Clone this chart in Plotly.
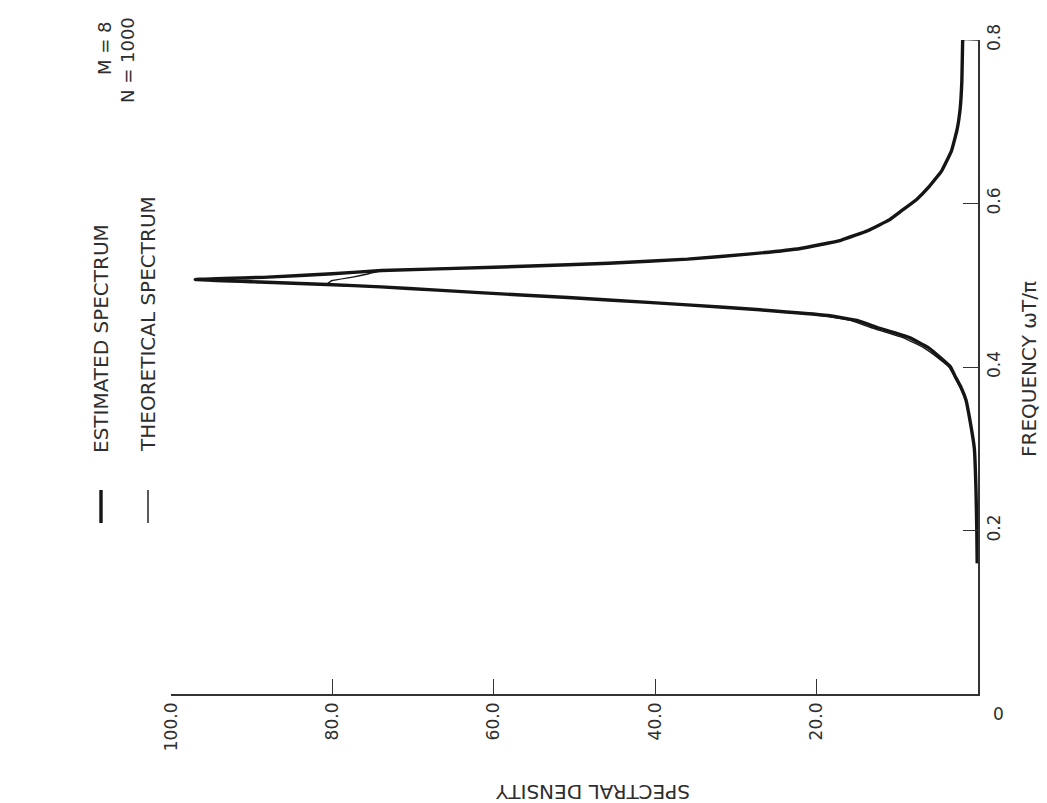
import plotly.graph_objects as go

# Frequency (omega T / pi) and spectral density
freq_est = [0.16, 0.20, 0.25, 0.30, 0.335, 0.36, 0.375, 0.39, 0.40, 0.41, 0.424, 0.436,
            0.448, 0.457, 0.463, 0.470, 0.476, 0.482, 0.485, 0.488, 0.494, 0.498, 0.501,
            0.504, 0.507, 0.510, 0.514, 0.518, 0.522, 0.525, 0.527, 0.532, 0.538, 0.545,
            0.555, 0.567, 0.580, 0.591, 0.605, 0.619, 0.640, 0.664, 0.690, 0.717, 0.750, 0.800]
dens_est = [0.1, 0.15, 0.25, 0.45, 1.0, 1.5, 2.1, 2.9, 3.4, 4.5, 6.2, 8.5,
            12.4, 15.0, 18.6, 27.0, 36.0, 45.8, 50.8, 56.6, 67.0, 74.0, 80.7,
            89.0, 97.0, 88.0, 80.0, 73.9, 60.0, 50.8, 45.8, 36.0, 28.5, 22.0,
            17.0, 13.6, 11.0, 9.5, 7.6, 6.2, 4.5, 3.3, 2.6, 2.2, 2.0, 1.9]

freq_th = [0.16, 0.20, 0.25, 0.30, 0.335, 0.36, 0.375, 0.39, 0.40, 0.41, 0.424, 0.436,
           0.448, 0.457, 0.463, 0.470, 0.476, 0.482, 0.485, 0.488, 0.494, 0.498, 0.501,
           0.5055, 0.510, 0.514, 0.518, 0.522, 0.525, 0.527, 0.532, 0.538, 0.545,
           0.555, 0.567, 0.580, 0.591, 0.605, 0.619, 0.640, 0.664, 0.690, 0.717, 0.750, 0.800, 0.800]
dens_th = [0.1, 0.15, 0.25, 0.45, 1.0, 1.5, 2.2, 3.0, 3.6, 4.8, 6.8, 9.3,
           13.2, 15.8, 19.3, 27.5, 36.4, 46.0, 50.8, 56.6, 67.0, 74.0, 80.7,
           80.1, 77.5, 75.5, 73.9, 60.0, 50.8, 45.8, 36.0, 28.5, 22.0,
           17.0, 13.6, 11.0, 9.5, 7.6, 6.2, 4.5, 3.3, 2.6, 2.2, 2.0, 1.9, 0.0]

dens_ticks = [100, 80, 60, 40, 20]
dens_ticktext = ["100.0", "80.0", "60.0", "40.0", "20.0"]
freq_ticks = [0.2, 0.4, 0.6, 0.8]
freq_ticktext = ["0.2", "0.4", "0.6", "0.8"]

W, H = 1047, 803
L, R, T, B = 163, 970, 32, 686
FONT = "DejaVu Sans"
INK = "#151515"
TXT = "#2e2e2e"


def px(x):
    return (x - L) / (R - L)


def py(y):
    return (B - y) / (B - T)


fig = go.Figure()
fig.add_trace(go.Scatter(x=dens_th, y=freq_th, mode="lines",
                         line=dict(color=INK, width=1.4, shape="spline", smoothing=0.3),
                         showlegend=False, hoverinfo="skip"))
fig.add_trace(go.Scatter(x=dens_est, y=freq_est, mode="lines",
                         line=dict(color=INK, width=3.4, shape="spline", smoothing=0.3),
                         showlegend=False, hoverinfo="skip"))

fig.update_layout(
    width=W, height=H, autosize=False,
    margin=dict(l=L, r=W - R, t=T, b=H - B, pad=0),
    paper_bgcolor="white", plot_bgcolor="white",
    font=dict(family=FONT, size=17, color=TXT),
    xaxis=dict(range=[100, 0], tickvals=dens_ticks, ticktext=dens_ticktext,
               tickangle=-90, ticks="inside", ticklen=15, tickwidth=1.3, tickcolor="#333",
               showline=True, linecolor="#333", linewidth=1.5, showgrid=False,
               zeroline=False, tickfont=dict(family=FONT, size=17, color=TXT)),
    yaxis=dict(range=[0, 0.8], side="right", tickvals=freq_ticks, ticktext=freq_ticktext,
               tickangle=-90, ticks="inside", ticklen=15, tickwidth=1.3, tickcolor="#333",
               showline=True, linecolor="#333", linewidth=1.5, showgrid=False,
               zeroline=False, tickfont=dict(family=FONT, size=17, color=TXT)),
)

annos = [
    dict(text="0", x=px(990), y=py(706), textangle=0, size=17),
    dict(text="SPECTRAL DENSITY", x=px(585), y=py(784), textangle=180, size=20),
    dict(text="FREQUENCY \u03c9T/\u03c0", x=px(1021), y=py(361), textangle=-90, size=20),
    dict(text="M = 8", x=px(97), y=py(40), textangle=-90, size=18),
    dict(text="N = 1000", x=px(120), y=py(52), textangle=-90, size=18),
    dict(text="ESTIMATED SPECTRUM", x=px(93), y=py(331), textangle=-90, size=20),
    dict(text="THEORETICAL SPECTRUM", x=px(140), y=py(316), textangle=-90, size=20),
]
for a in annos:
    fig.add_annotation(text=a["text"], x=a["x"], y=a["y"], xref="paper", yref="paper",
                       showarrow=False, textangle=a["textangle"],
                       font=dict(family=FONT, size=a["size"], color=TXT),
                       xanchor="center", yanchor="middle")

fig.add_shape(type="line", xref="paper", yref="paper", x0=px(93), x1=px(93),
              y0=py(482), y1=py(515), line=dict(color=INK, width=3.4))
fig.add_shape(type="line", xref="paper", yref="paper", x0=px(140), x1=px(140),
              y0=py(482), y1=py(515), line=dict(color=INK, width=1.4))

fig.write_html("out.html")
